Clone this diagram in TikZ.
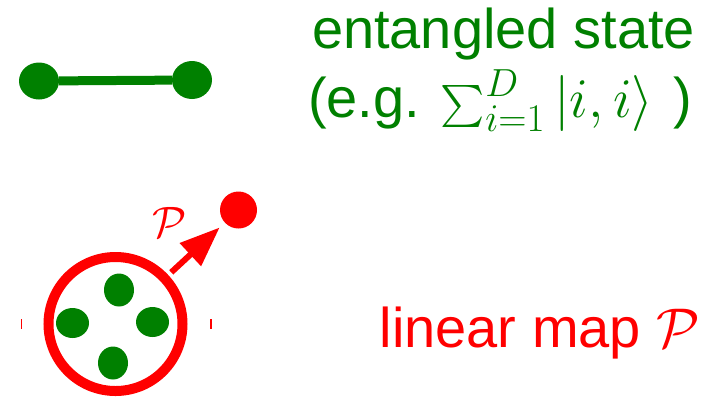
\RequirePackage{fix-cm}
\documentclass[tikz,border=0pt]{standalone}
\usepackage{fontspec}
\usepackage{graphicx}
\setmainfont{Liberation Sans}
\DeclareFontShape{OMX}{cmex}{m}{n}{<->cmex10}{}
\usetikzlibrary{shapes.geometric,arrows.meta}
\definecolor{grn}{RGB}{0,128,0}
\definecolor{rd}{RGB}{255,0,0}
\newcommand{\smallsum}{\mathop{\lower3bp\hbox{$\vcenter{\hbox{\scalebox{0.75}{$\textstyle\sum$}}}$}}\nolimits}
\tikzset{
  blob/.style={ellipse, fill=grn, inner sep=0pt},
  bigtext/.style={inner sep=0pt, anchor=base, font=\fontsize{56bp}{67bp}\selectfont},
  tick/.style={draw=rd, line width=1.2bp},
}
\begin{document}
\begin{tikzpicture}[x=1bp,y=-1bp]
\useasboundingbox (0,0) rectangle (719,396);
% dumbbell
\node[blob, minimum width=40bp, minimum height=37bp] (d1) at (39,81) {};
\node[blob, minimum width=40bp, minimum height=38bp] (d2) at (192,80) {};
\draw[grn, line width=9bp] (d1) -- (d2);
% text
\node[bigtext, text=grn] (t1) at (503.5,48) {entangled state};
\node[bigtext, text=grn] (t2) at (500,117) {(e.g. $\smallsum_{i=1}^{D}|i,i\rangle$\hspace{4bp} )};
% map
\node[circle, draw=rd, line width=10bp, minimum size=134bp, inner sep=0pt] (P) at (115.5,324) {};
\node[blob, minimum width=30bp, minimum height=33bp] (b1) at (119,290) {};
\node[blob, minimum width=33bp, minimum height=30bp] (b2) at (72.5,323) {};
\node[blob, minimum width=33bp, minimum height=30bp] (b3) at (152.5,322) {};
\node[blob, minimum width=30bp, minimum height=33bp] (b4) at (113,363) {};
\node[circle, fill=rd, minimum size=37bp, inner sep=0pt] (dot) at (238.5,210) {};
\draw[rd, line width=6bp, shorten <=4bp, shorten >=7bp, -{Triangle[length=40bp,width=30bp]}] (P) -- (dot);
\node[text=rd, inner sep=0pt, font=\fontsize{44bp}{50bp}\selectfont] (lab) at (170,222) {$\mathcal{P}$};
\coordinate (k1a) at (21.5,319); \coordinate (k1b) at (21.5,329);
\coordinate (k2a) at (211,319); \coordinate (k2b) at (211,329);
\draw[tick] (k1a) -- (k1b);
\draw[tick] (k2a) -- (k2b);
\node[bigtext, text=rd] (t3) at (540,347) {linear map $\mathcal{P}$};
\end{tikzpicture}
\end{document}
